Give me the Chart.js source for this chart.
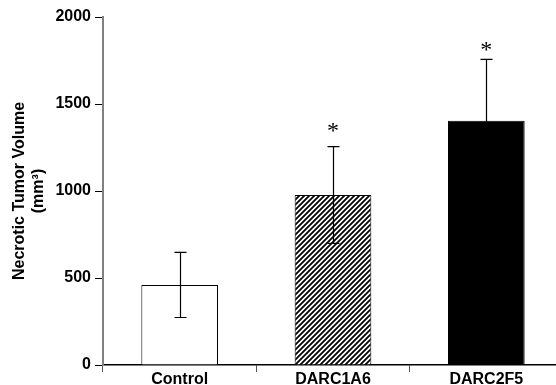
<!DOCTYPE html>
<html>
<head>
<meta charset="utf-8">
<script src="https://cdn.jsdelivr.net/npm/chart.js@4.4.1/dist/chart.umd.min.js"></script>
<style>
    html, body { margin: 0; padding: 0; background: #fff; overflow: hidden; }
    #wrap { width: 556px; height: 385px; overflow: hidden; }
    canvas { display: block; }
</style>
</head>
<body>
<div id="wrap"><canvas id="tumorChart" width="570" height="385"></canvas></div>
<script>
const groups = ['Control', 'DARC1A6', 'DARC2F5'];
const meanVolume = [460, 977, 1404];
const semVolume = [187, 278, 353];
const starAt = [null, 1362, 1830]; // where the significance marks sit
const yTicks = [0, 500, 1000, 1500, 2000];

function hatchPattern() {
    const s = 5;
    const c = document.createElement('canvas');
    c.width = s; c.height = s;
    const g = c.getContext('2d');
    g.fillStyle = '#fff';
    g.fillRect(0, 0, s, s);
    g.strokeStyle = '#000';
    g.lineWidth = 1.8;
    g.beginPath();
    g.moveTo(0, s); g.lineTo(s, 0);
    g.moveTo(-2, 2); g.lineTo(2, -2);
    g.moveTo(s - 2, s + 2); g.lineTo(s + 2, s - 2);
    g.stroke();
    return g.createPattern(c, 'repeat');
}

// error bars + asterisks, drawn on top of the bars
const errorBars = {
    id: 'errorBars',
    afterDatasetsDraw(chart) {
        const { ctx, scales: { x, y } } = chart;
        ctx.save();
        ctx.strokeStyle = '#000';
        ctx.lineWidth = 1.2;
        meanVolume.forEach((m, i) => {
            const px = Math.round(x.getPixelForValue(i)) + 0.5;
            const hi = y.getPixelForValue(m + semVolume[i]);
            const lo = y.getPixelForValue(m - semVolume[i]);
            ctx.beginPath();
            ctx.moveTo(px, hi); ctx.lineTo(px, lo);
            ctx.moveTo(px - 6, hi); ctx.lineTo(px + 6, hi);
            ctx.moveTo(px - 6, lo); ctx.lineTo(px + 6, lo);
            ctx.stroke();
        });
        ctx.fillStyle = '#000';
        ctx.font = '24px "Liberation Serif", "Times New Roman", serif';
        ctx.textAlign = 'center';
        ctx.textBaseline = 'middle';
        starAt.forEach((v, i) => {
            if (v == null) return;
            ctx.fillText('*', x.getPixelForValue(i), y.getPixelForValue(v) + 4);
        });
        ctx.restore();
    }
};

const tickFont = { family: '"Liberation Sans", Arial, sans-serif', size: 16, weight: 'bold' };

new Chart(document.getElementById('tumorChart'), {
    type: 'bar',
    data: {
        labels: groups,
        datasets: [{
            data: meanVolume,
            backgroundColor: ['#fff', hatchPattern(), '#000'],
            borderColor: '#000',
            borderWidth: 1,
            barPercentage: 0.5,
            categoryPercentage: 1.0
        }]
    },
    options: {
        responsive: false,
        animation: false,
        layout: { padding: { top: 17, right: 7, left: 0, bottom: 0 } },
        plugins: {
            legend: { display: false },
            tooltip: { enabled: false }
        },
        scales: {
            x: {
                offset: true,
                grid: {
                    offset: true,
                    drawOnChartArea: false,
                    tickLength: 7,
                    tickColor: '#555'
                },
                border: { color: '#000', width: 1.5 },
                ticks: { font: tickFont, color: '#000', padding: -2 },
                afterFit(scale) { scale.height = 20; }
            },
            y: {
                min: 0,
                max: 2000,
                afterBuildTicks(scale) { scale.ticks = yTicks.map(v => ({ value: v })); },
                grid: {
                    drawOnChartArea: false,
                    tickLength: 8,
                    tickColor: '#000'
                },
                border: { color: '#808080', width: 2 },
                ticks: {
                    font: tickFont,
                    color: '#000',
                    padding: 4,
                    callback: v => String(v)
                },
                title: {
                    display: true,
                    text: ['Necrotic Tumor Volume', '(mm³)'],
                    font: { family: '"Liberation Sans", Arial, sans-serif', size: 16, weight: 'bold' },
                    color: '#000',
                    padding: { top: 10, bottom: 0 }
                },
                afterFit(scale) { scale.width = 103; }
            }
        }
    },
    plugins: [errorBars]
});
</script>
</body>
</html>
